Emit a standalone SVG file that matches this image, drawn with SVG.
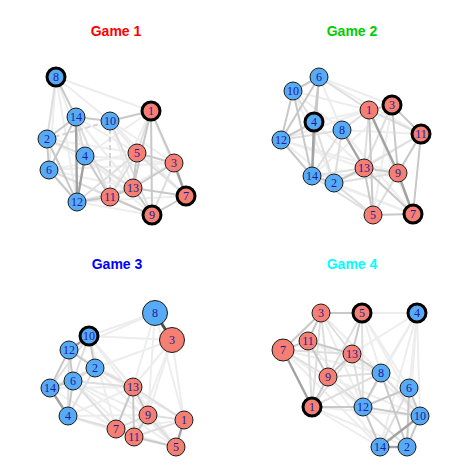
<svg xmlns="http://www.w3.org/2000/svg" width="468" height="468" viewBox="0 0 468 468">
<style>
.a{stroke:#ededed;stroke-width:2}
.b{stroke:#dedede;stroke-width:2}
.c{stroke:#c8c8c8;stroke-width:2}
.d{stroke:#a2a2a2;stroke-width:2.4}
.e{stroke:#505050;stroke-width:3}
.ds{stroke:#d4d4d4;stroke-width:2;stroke-dasharray:5 3}
.title{font-family:"Liberation Sans",Arial,sans-serif;font-weight:bold;font-size:14px;text-anchor:middle}
.n circle{stroke:#1a1a1a;stroke-width:1}
.n.k circle{stroke:#000;stroke-width:3}
.bl circle{fill:#57aaf4}
.rd circle{fill:#f47f72}
.n text{font-family:"Liberation Serif","Times New Roman",serif;font-size:12px;fill:#1c1c9c;text-anchor:middle}
</style>
<rect width="468" height="468" fill="#ffffff"/>
<text class="title" x="116" y="36" fill="#ff0000">Game 1</text>
<text class="title" x="352" y="36" fill="#00cd00">Game 2</text>
<text class="title" x="117" y="269" fill="#0000ff">Game 3</text>
<text class="title" x="352" y="269" fill="#00ffff">Game 4</text>

<g id="connectors">
<g id="edges1">
<line class="a" x1="56" y1="77" x2="151" y2="111"/>
<line class="a" x1="56" y1="77" x2="110" y2="121"/>
<line class="a" x1="56" y1="77" x2="85" y2="156"/>
<line class="a" x1="56" y1="77" x2="77" y2="202"/>
<line class="a" x1="56" y1="77" x2="49" y2="170"/>
<line class="a" x1="151" y1="111" x2="186" y2="196"/>
<line class="a" x1="151" y1="111" x2="85" y2="156"/>
<line class="a" x1="47" y1="139" x2="137" y2="153"/>
<line class="a" x1="49" y1="170" x2="137" y2="153"/>
<line class="a" x1="49" y1="170" x2="133" y2="188"/>
<line class="a" x1="49" y1="170" x2="174" y2="163"/>
<line class="a" x1="85" y1="156" x2="174" y2="163"/>
<line class="a" x1="85" y1="156" x2="152" y2="215"/>
<line class="a" x1="77" y1="202" x2="152" y2="215"/>
<line class="a" x1="110" y1="121" x2="174" y2="163"/>
<line class="a" x1="110" y1="121" x2="186" y2="196"/>
<line class="a" x1="76" y1="117" x2="137" y2="153"/>
<line class="a" x1="76" y1="117" x2="133" y2="188"/>
<line class="a" x1="47" y1="139" x2="133" y2="188"/>
<line class="a" x1="77" y1="202" x2="186" y2="196"/>
<line class="a" x1="110" y1="197" x2="174" y2="163"/>
<line class="a" x1="110" y1="197" x2="151" y2="111"/>
<line class="a" x1="49" y1="170" x2="152" y2="215"/>
<line class="a" x1="110" y1="121" x2="137" y2="153"/>
<line class="a" x1="110" y1="121" x2="133" y2="188"/>
<line class="b" x1="56" y1="77" x2="47" y2="139"/>
<line class="b" x1="76" y1="117" x2="85" y2="156"/>
<line class="b" x1="76" y1="117" x2="110" y2="197"/>
<line class="b" x1="47" y1="139" x2="85" y2="156"/>
<line class="b" x1="49" y1="170" x2="110" y2="197"/>
<line class="b" x1="77" y1="202" x2="137" y2="153"/>
<line class="b" x1="85" y1="156" x2="133" y2="188"/>
<line class="b" x1="110" y1="121" x2="152" y2="215"/>
<line class="b" x1="151" y1="111" x2="137" y2="153"/>
<line class="b" x1="137" y1="153" x2="186" y2="196"/>
<line class="b" x1="174" y1="163" x2="152" y2="215"/>
<line class="b" x1="110" y1="197" x2="137" y2="153"/>
<line class="b" x1="77" y1="202" x2="133" y2="188"/>
<line class="ds" x1="47" y1="139" x2="110" y2="121"/>
<line class="ds" x1="110" y1="121" x2="110" y2="197"/>
<line class="c" x1="56" y1="77" x2="76" y2="117"/>
<line class="c" x1="76" y1="117" x2="110" y2="121"/>
<line class="c" x1="76" y1="117" x2="47" y2="139"/>
<line class="c" x1="76" y1="117" x2="49" y2="170"/>
<line class="c" x1="47" y1="139" x2="49" y2="170"/>
<line class="c" x1="49" y1="170" x2="77" y2="202"/>
<line class="c" x1="47" y1="139" x2="77" y2="202"/>
<line class="c" x1="85" y1="156" x2="110" y2="197"/>
<line class="c" x1="77" y1="202" x2="110" y2="197"/>
<line class="c" x1="110" y1="197" x2="133" y2="188"/>
<line class="c" x1="133" y1="188" x2="137" y2="153"/>
<line class="c" x1="133" y1="188" x2="174" y2="163"/>
<line class="c" x1="133" y1="188" x2="186" y2="196"/>
<line class="c" x1="137" y1="153" x2="174" y2="163"/>
<line class="c" x1="151" y1="111" x2="174" y2="163"/>
<line class="c" x1="151" y1="111" x2="133" y2="188"/>
<line class="c" x1="151" y1="111" x2="152" y2="215"/>
<line class="c" x1="186" y1="196" x2="152" y2="215"/>
<line class="c" x1="110" y1="197" x2="152" y2="215"/>
<line class="c" x1="133" y1="188" x2="152" y2="215"/>
<line class="c" x1="110" y1="121" x2="151" y2="111"/>
<line class="d" x1="76" y1="117" x2="77" y2="202"/>
<line class="d" x1="85" y1="156" x2="77" y2="202"/>
<line class="d" x1="174" y1="163" x2="186" y2="196"/>
</g>
<g id="edges2">
<line class="a" x1="319" y1="77" x2="392" y2="105"/>
<line class="a" x1="319" y1="77" x2="421" y2="134"/>
<line class="a" x1="293" y1="91" x2="369" y2="110"/>
<line class="a" x1="293" y1="91" x2="342" y2="130"/>
<line class="a" x1="281" y1="140" x2="369" y2="110"/>
<line class="a" x1="281" y1="140" x2="364" y2="168"/>
<line class="a" x1="281" y1="140" x2="398" y2="173"/>
<line class="a" x1="314" y1="122" x2="369" y2="110"/>
<line class="a" x1="314" y1="122" x2="364" y2="168"/>
<line class="a" x1="312" y1="176" x2="398" y2="173"/>
<line class="a" x1="312" y1="176" x2="413" y2="214"/>
<line class="a" x1="334" y1="183" x2="413" y2="214"/>
<line class="a" x1="334" y1="183" x2="421" y2="134"/>
<line class="a" x1="342" y1="130" x2="421" y2="134"/>
<line class="a" x1="342" y1="130" x2="413" y2="214"/>
<line class="a" x1="392" y1="105" x2="373" y2="215"/>
<line class="a" x1="369" y1="110" x2="413" y2="214"/>
<line class="a" x1="319" y1="77" x2="342" y2="130"/>
<line class="a" x1="293" y1="91" x2="334" y2="183"/>
<line class="a" x1="281" y1="140" x2="373" y2="215"/>
<line class="a" x1="392" y1="105" x2="312" y2="176"/>
<line class="a" x1="421" y1="134" x2="373" y2="215"/>
<line class="b" x1="319" y1="77" x2="369" y2="110"/>
<line class="b" x1="293" y1="91" x2="314" y2="122"/>
<line class="b" x1="281" y1="140" x2="342" y2="130"/>
<line class="b" x1="314" y1="122" x2="334" y2="183"/>
<line class="b" x1="342" y1="130" x2="312" y2="176"/>
<line class="b" x1="342" y1="130" x2="334" y2="183"/>
<line class="b" x1="342" y1="130" x2="369" y2="110"/>
<line class="b" x1="312" y1="176" x2="364" y2="168"/>
<line class="b" x1="334" y1="183" x2="398" y2="173"/>
<line class="b" x1="334" y1="183" x2="373" y2="215"/>
<line class="b" x1="312" y1="176" x2="373" y2="215"/>
<line class="b" x1="369" y1="110" x2="421" y2="134"/>
<line class="b" x1="392" y1="105" x2="364" y2="168"/>
<line class="b" x1="364" y1="168" x2="421" y2="134"/>
<line class="b" x1="398" y1="173" x2="373" y2="215"/>
<line class="b" x1="369" y1="110" x2="364" y2="168"/>
<line class="c" x1="319" y1="77" x2="293" y2="91"/>
<line class="c" x1="319" y1="77" x2="281" y2="140"/>
<line class="c" x1="319" y1="77" x2="314" y2="122"/>
<line class="c" x1="319" y1="77" x2="312" y2="176"/>
<line class="c" x1="293" y1="91" x2="312" y2="176"/>
<line class="c" x1="281" y1="140" x2="312" y2="176"/>
<line class="c" x1="281" y1="140" x2="314" y2="122"/>
<line class="c" x1="312" y1="176" x2="334" y2="183"/>
<line class="c" x1="334" y1="183" x2="364" y2="168"/>
<line class="c" x1="369" y1="110" x2="392" y2="105"/>
<line class="c" x1="369" y1="110" x2="373" y2="215"/>
<line class="c" x1="392" y1="105" x2="398" y2="173"/>
<line class="c" x1="392" y1="105" x2="421" y2="134"/>
<line class="c" x1="421" y1="134" x2="398" y2="173"/>
<line class="c" x1="421" y1="134" x2="413" y2="214"/>
<line class="c" x1="364" y1="168" x2="398" y2="173"/>
<line class="c" x1="364" y1="168" x2="373" y2="215"/>
<line class="c" x1="364" y1="168" x2="413" y2="214"/>
<line class="c" x1="373" y1="215" x2="413" y2="214"/>
<line class="c" x1="293" y1="91" x2="281" y2="140"/>
<line class="d" x1="314" y1="122" x2="312" y2="176"/>
<line class="d" x1="342" y1="130" x2="364" y2="168"/>
<line class="d" x1="369" y1="110" x2="398" y2="173"/>
<line class="d" x1="398" y1="173" x2="413" y2="214"/>
</g>
<g id="edges3">
<line class="a" x1="155" y1="313" x2="89" y2="336"/>
<line class="a" x1="155" y1="313" x2="69" y2="350"/>
<line class="a" x1="155" y1="313" x2="133" y2="387"/>
<line class="a" x1="155" y1="313" x2="148" y2="415"/>
<line class="a" x1="155" y1="313" x2="184" y2="420"/>
<line class="a" x1="172" y1="340" x2="89" y2="336"/>
<line class="a" x1="172" y1="340" x2="95" y2="368"/>
<line class="a" x1="172" y1="340" x2="133" y2="387"/>
<line class="a" x1="172" y1="340" x2="148" y2="415"/>
<line class="a" x1="172" y1="340" x2="184" y2="420"/>
<line class="a" x1="172" y1="340" x2="134" y2="437"/>
<line class="a" x1="89" y1="336" x2="133" y2="387"/>
<line class="a" x1="89" y1="336" x2="148" y2="415"/>
<line class="a" x1="69" y1="350" x2="133" y2="387"/>
<line class="a" x1="95" y1="368" x2="184" y2="420"/>
<line class="a" x1="95" y1="368" x2="176" y2="447"/>
<line class="a" x1="73" y1="381" x2="148" y2="415"/>
<line class="a" x1="73" y1="381" x2="134" y2="437"/>
<line class="a" x1="50" y1="388" x2="116" y2="429"/>
<line class="a" x1="50" y1="388" x2="133" y2="387"/>
<line class="a" x1="68" y1="416" x2="133" y2="387"/>
<line class="a" x1="68" y1="416" x2="148" y2="415"/>
<line class="a" x1="68" y1="416" x2="134" y2="437"/>
<line class="a" x1="68" y1="416" x2="176" y2="447"/>
<line class="a" x1="116" y1="429" x2="184" y2="420"/>
<line class="a" x1="133" y1="387" x2="176" y2="447"/>
<line class="a" x1="89" y1="336" x2="116" y2="429"/>
<line class="a" x1="73" y1="381" x2="176" y2="447"/>
<line class="b" x1="89" y1="336" x2="73" y2="381"/>
<line class="b" x1="89" y1="336" x2="50" y2="388"/>
<line class="b" x1="69" y1="350" x2="68" y2="416"/>
<line class="b" x1="95" y1="368" x2="73" y2="381"/>
<line class="b" x1="95" y1="368" x2="68" y2="416"/>
<line class="b" x1="95" y1="368" x2="133" y2="387"/>
<line class="b" x1="73" y1="381" x2="133" y2="387"/>
<line class="b" x1="68" y1="416" x2="116" y2="429"/>
<line class="b" x1="116" y1="429" x2="148" y2="415"/>
<line class="b" x1="148" y1="415" x2="176" y2="447"/>
<line class="b" x1="134" y1="437" x2="184" y2="420"/>
<line class="b" x1="133" y1="387" x2="184" y2="420"/>
<line class="b" x1="148" y1="415" x2="184" y2="420"/>
<line class="b" x1="73" y1="381" x2="116" y2="429"/>
<line class="b" x1="50" y1="388" x2="95" y2="368"/>
<line class="c" x1="69" y1="350" x2="95" y2="368"/>
<line class="c" x1="69" y1="350" x2="50" y2="388"/>
<line class="c" x1="69" y1="350" x2="73" y2="381"/>
<line class="c" x1="50" y1="388" x2="73" y2="381"/>
<line class="c" x1="73" y1="381" x2="68" y2="416"/>
<line class="c" x1="133" y1="387" x2="148" y2="415"/>
<line class="c" x1="133" y1="387" x2="116" y2="429"/>
<line class="c" x1="133" y1="387" x2="134" y2="437"/>
<line class="c" x1="148" y1="415" x2="134" y2="437"/>
<line class="c" x1="116" y1="429" x2="134" y2="437"/>
<line class="c" x1="134" y1="437" x2="176" y2="447"/>
<line class="c" x1="89" y1="336" x2="95" y2="368"/>
<line class="d" x1="89" y1="336" x2="69" y2="350"/>
<line class="d" x1="50" y1="388" x2="68" y2="416"/>
<line class="d" x1="184" y1="420" x2="176" y2="447"/>
<line class="e" x1="155" y1="313" x2="172" y2="340"/>
</g>
<g id="edges4">
<line class="a" x1="417" y1="313" x2="362" y2="313"/>
<line class="a" x1="417" y1="313" x2="352" y2="354"/>
<line class="a" x1="417" y1="313" x2="381" y2="373"/>
<line class="a" x1="417" y1="313" x2="409" y2="388"/>
<line class="a" x1="417" y1="313" x2="420" y2="416"/>
<line class="a" x1="417" y1="313" x2="363" y2="407"/>
<line class="a" x1="417" y1="313" x2="380" y2="447"/>
<line class="a" x1="417" y1="313" x2="407" y2="447"/>
<line class="a" x1="321" y1="313" x2="417" y2="313"/>
<line class="a" x1="362" y1="313" x2="381" y2="373"/>
<line class="a" x1="362" y1="313" x2="409" y2="388"/>
<line class="a" x1="362" y1="313" x2="420" y2="416"/>
<line class="a" x1="283" y1="350" x2="363" y2="407"/>
<line class="a" x1="283" y1="350" x2="380" y2="447"/>
<line class="a" x1="312" y1="407" x2="380" y2="447"/>
<line class="a" x1="312" y1="407" x2="407" y2="447"/>
<line class="a" x1="308" y1="341" x2="363" y2="407"/>
<line class="a" x1="321" y1="313" x2="381" y2="373"/>
<line class="a" x1="328" y1="377" x2="380" y2="447"/>
<line class="a" x1="328" y1="377" x2="420" y2="416"/>
<line class="a" x1="352" y1="354" x2="409" y2="388"/>
<line class="a" x1="352" y1="354" x2="420" y2="416"/>
<line class="a" x1="312" y1="407" x2="420" y2="416"/>
<line class="a" x1="321" y1="313" x2="363" y2="407"/>
<line class="a" x1="283" y1="350" x2="381" y2="373"/>
<line class="a" x1="308" y1="341" x2="381" y2="373"/>
<line class="b" x1="321" y1="313" x2="352" y2="354"/>
<line class="b" x1="321" y1="313" x2="328" y2="377"/>
<line class="b" x1="321" y1="313" x2="312" y2="407"/>
<line class="b" x1="283" y1="350" x2="352" y2="354"/>
<line class="b" x1="283" y1="350" x2="328" y2="377"/>
<line class="b" x1="308" y1="341" x2="312" y2="407"/>
<line class="b" x1="362" y1="313" x2="363" y2="407"/>
<line class="b" x1="362" y1="313" x2="328" y2="377"/>
<line class="b" x1="352" y1="354" x2="363" y2="407"/>
<line class="b" x1="352" y1="354" x2="312" y2="407"/>
<line class="b" x1="328" y1="377" x2="381" y2="373"/>
<line class="b" x1="328" y1="377" x2="363" y2="407"/>
<line class="b" x1="381" y1="373" x2="420" y2="416"/>
<line class="b" x1="363" y1="407" x2="407" y2="447"/>
<line class="b" x1="409" y1="388" x2="380" y2="447"/>
<line class="b" x1="312" y1="407" x2="381" y2="373"/>
<line class="c" x1="321" y1="313" x2="362" y2="313"/>
<line class="c" x1="321" y1="313" x2="308" y2="341"/>
<line class="c" x1="283" y1="350" x2="308" y2="341"/>
<line class="c" x1="308" y1="341" x2="352" y2="354"/>
<line class="c" x1="308" y1="341" x2="328" y2="377"/>
<line class="c" x1="352" y1="354" x2="328" y2="377"/>
<line class="c" x1="328" y1="377" x2="312" y2="407"/>
<line class="c" x1="312" y1="407" x2="363" y2="407"/>
<line class="c" x1="381" y1="373" x2="363" y2="407"/>
<line class="c" x1="381" y1="373" x2="407" y2="447"/>
<line class="c" x1="381" y1="373" x2="352" y2="354"/>
<line class="c" x1="363" y1="407" x2="409" y2="388"/>
<line class="c" x1="363" y1="407" x2="420" y2="416"/>
<line class="c" x1="363" y1="407" x2="380" y2="447"/>
<line class="c" x1="409" y1="388" x2="420" y2="416"/>
<line class="c" x1="409" y1="388" x2="407" y2="447"/>
<line class="c" x1="362" y1="313" x2="352" y2="354"/>
<line class="c" x1="420" y1="416" x2="407" y2="447"/>
<line class="c" x1="321" y1="313" x2="283" y2="350"/>
<line class="d" x1="283" y1="350" x2="312" y2="407"/>
<line class="d" x1="420" y1="416" x2="380" y2="447"/>
<line class="d" x1="380" y1="447" x2="407" y2="447"/>
</g>
</g>

<g id="nodes1">
<g id="g1-n8" class="n bl k"><circle cx="56" cy="77" r="9"/><text x="56" y="81">8</text></g>
<g id="g1-n14" class="n bl"><circle cx="76" cy="117" r="9"/><text x="76" y="121">14</text></g>
<g id="g1-n10" class="n bl"><circle cx="110" cy="121" r="9"/><text x="110" y="125">10</text></g>
<g id="g1-n1" class="n rd k"><circle cx="151" cy="111" r="9"/><text x="151" y="115">1</text></g>
<g id="g1-n2" class="n bl"><circle cx="47" cy="139" r="9"/><text x="47" y="143">2</text></g>
<g id="g1-n4" class="n bl"><circle cx="85" cy="156" r="9"/><text x="85" y="160">4</text></g>
<g id="g1-n5" class="n rd"><circle cx="137" cy="153" r="9"/><text x="137" y="157">5</text></g>
<g id="g1-n3" class="n rd"><circle cx="174" cy="163" r="9"/><text x="174" y="167">3</text></g>
<g id="g1-n6" class="n bl"><circle cx="49" cy="170" r="9"/><text x="49" y="174">6</text></g>
<g id="g1-n13" class="n rd"><circle cx="133" cy="188" r="9"/><text x="133" y="192">13</text></g>
<g id="g1-n11" class="n rd"><circle cx="110" cy="197" r="9"/><text x="110" y="201">11</text></g>
<g id="g1-n12" class="n bl"><circle cx="77" cy="202" r="9"/><text x="77" y="206">12</text></g>
<g id="g1-n7" class="n rd k"><circle cx="186" cy="196" r="9"/><text x="186" y="200">7</text></g>
<g id="g1-n9" class="n rd k"><circle cx="152" cy="215" r="9"/><text x="152" y="219">9</text></g>
</g>
<g id="nodes2">
<g id="g2-n6" class="n bl"><circle cx="319" cy="77" r="9"/><text x="319" y="81">6</text></g>
<g id="g2-n10" class="n bl"><circle cx="293" cy="91" r="9"/><text x="293" y="95">10</text></g>
<g id="g2-n1" class="n rd"><circle cx="369" cy="110" r="9"/><text x="369" y="114">1</text></g>
<g id="g2-n3" class="n rd k"><circle cx="392" cy="105" r="9"/><text x="392" y="109">3</text></g>
<g id="g2-n4" class="n bl k"><circle cx="314" cy="122" r="9"/><text x="314" y="126">4</text></g>
<g id="g2-n8" class="n bl"><circle cx="342" cy="130" r="9"/><text x="342" y="134">8</text></g>
<g id="g2-n11" class="n rd k"><circle cx="421" cy="134" r="9"/><text x="421" y="138">11</text></g>
<g id="g2-n12" class="n bl"><circle cx="281" cy="140" r="9"/><text x="281" y="144">12</text></g>
<g id="g2-n13" class="n rd"><circle cx="364" cy="168" r="9"/><text x="364" y="172">13</text></g>
<g id="g2-n9" class="n rd"><circle cx="398" cy="173" r="9"/><text x="398" y="177">9</text></g>
<g id="g2-n14" class="n bl"><circle cx="312" cy="176" r="9"/><text x="312" y="180">14</text></g>
<g id="g2-n2" class="n bl"><circle cx="334" cy="183" r="9"/><text x="334" y="187">2</text></g>
<g id="g2-n5" class="n rd"><circle cx="373" cy="215" r="9"/><text x="373" y="219">5</text></g>
<g id="g2-n7" class="n rd k"><circle cx="413" cy="214" r="9"/><text x="413" y="218">7</text></g>
</g>
<g id="nodes3">
<g id="g3-n8" class="n bl"><circle cx="155" cy="313" r="12.5"/><text x="155" y="317">8</text></g>
<g id="g3-n3" class="n rd"><circle cx="172" cy="340" r="12.5"/><text x="172" y="344">3</text></g>
<g id="g3-n10" class="n bl k"><circle cx="89" cy="336" r="9"/><text x="89" y="340">10</text></g>
<g id="g3-n12" class="n bl"><circle cx="69" cy="350" r="9"/><text x="69" y="354">12</text></g>
<g id="g3-n2" class="n bl"><circle cx="95" cy="368" r="9"/><text x="95" y="372">2</text></g>
<g id="g3-n6" class="n bl"><circle cx="73" cy="381" r="9"/><text x="73" y="385">6</text></g>
<g id="g3-n14" class="n bl"><circle cx="50" cy="388" r="9"/><text x="50" y="392">14</text></g>
<g id="g3-n13" class="n rd"><circle cx="133" cy="387" r="9"/><text x="133" y="391">13</text></g>
<g id="g3-n4" class="n bl"><circle cx="68" cy="416" r="9"/><text x="68" y="420">4</text></g>
<g id="g3-n9" class="n rd"><circle cx="148" cy="415" r="9"/><text x="148" y="419">9</text></g>
<g id="g3-n1" class="n rd"><circle cx="184" cy="420" r="9"/><text x="184" y="424">1</text></g>
<g id="g3-n7" class="n rd"><circle cx="116" cy="429" r="9"/><text x="116" y="433">7</text></g>
<g id="g3-n11" class="n rd"><circle cx="134" cy="437" r="9"/><text x="134" y="441">11</text></g>
<g id="g3-n5" class="n rd"><circle cx="176" cy="447" r="9"/><text x="176" y="451">5</text></g>
</g>
<g id="nodes4">
<g id="g4-n3" class="n rd"><circle cx="321" cy="313" r="9"/><text x="321" y="317">3</text></g>
<g id="g4-n5" class="n rd k"><circle cx="362" cy="313" r="9"/><text x="362" y="317">5</text></g>
<g id="g4-n4" class="n bl k"><circle cx="417" cy="313" r="9"/><text x="417" y="317">4</text></g>
<g id="g4-n11" class="n rd"><circle cx="308" cy="341" r="9"/><text x="308" y="345">11</text></g>
<g id="g4-n7" class="n rd"><circle cx="283" cy="350" r="11"/><text x="283" y="354">7</text></g>
<g id="g4-n13" class="n rd"><circle cx="352" cy="354" r="9"/><text x="352" y="358">13</text></g>
<g id="g4-n8" class="n bl"><circle cx="381" cy="373" r="9"/><text x="381" y="377">8</text></g>
<g id="g4-n9" class="n rd"><circle cx="328" cy="377" r="9"/><text x="328" y="381">9</text></g>
<g id="g4-n6" class="n bl"><circle cx="409" cy="388" r="9"/><text x="409" y="392">6</text></g>
<g id="g4-n1" class="n rd k"><circle cx="312" cy="407" r="9"/><text x="312" y="411">1</text></g>
<g id="g4-n12" class="n bl"><circle cx="363" cy="407" r="9"/><text x="363" y="411">12</text></g>
<g id="g4-n10" class="n bl"><circle cx="420" cy="416" r="9"/><text x="420" y="420">10</text></g>
<g id="g4-n14" class="n bl"><circle cx="380" cy="447" r="9"/><text x="380" y="451">14</text></g>
<g id="g4-n2" class="n bl"><circle cx="407" cy="447" r="9"/><text x="407" y="451">2</text></g>
</g>
</svg>
